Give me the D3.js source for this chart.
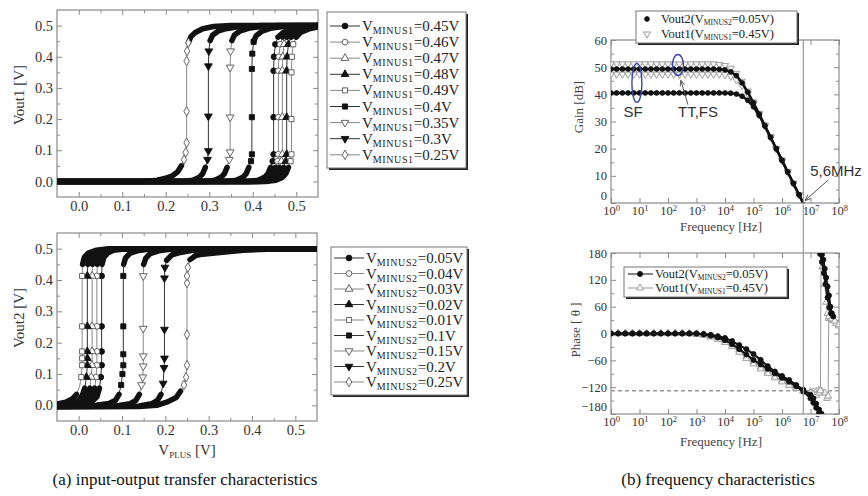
<!DOCTYPE html>
<meta charset="utf-8">
<script src="https://cdn.jsdelivr.net/npm/d3@7"></script>
<style>
body { margin: 0; background: #fff; }
svg { font-family: "Liberation Serif", "Times New Roman", serif; }
</style>
<div id="chart"></div>
<script>
// ---------- data ----------
// (a) transfer curves, pairs of [VPLUS, Vout]
const vminus1 = ["0.45", "0.46", "0.47", "0.48", "0.49", "0.4", "0.35", "0.3", "0.25"];
const vminus2 = ["0.05", "0.04", "0.03", "0.02", "0.01", "0.1", "0.15", "0.2", "0.25"];
const markerKinds = [
  {shape: "circle", filled: true}, {shape: "circle", filled: false},
  {shape: "triUp", filled: false}, {shape: "triUp", filled: true},
  {shape: "square", filled: false}, {shape: "square", filled: true},
  {shape: "triDn", filled: false}, {shape: "triDn", filled: true},
  {shape: "diamond", filled: false}
];

const v1_045 = [[-0.05,0],[0.39,0],[0.412,0.004],[0.427,0.013],[0.435,0.025],[0.441,0.045],[0.446,0.065],[0.448,0.087],[0.448,0.206],[0.448,0.355],[0.449,0.4],[0.452,0.44],[0.458,0.463],[0.47,0.478],[0.49,0.49],[0.52,0.497],[0.55,0.5]];
const v1_046 = [[-0.05,0],[0.40,0],[0.423,0.004],[0.438,0.013],[0.446,0.025],[0.452,0.045],[0.457,0.065],[0.459,0.087],[0.459,0.206],[0.459,0.355],[0.46,0.4],[0.463,0.44],[0.469,0.463],[0.48,0.478],[0.5,0.49],[0.53,0.497],[0.55,0.5]];
const v1_047 = [[-0.05,0],[0.41,0],[0.432,0.004],[0.447,0.013],[0.455,0.025],[0.461,0.045],[0.466,0.065],[0.468,0.087],[0.468,0.206],[0.468,0.355],[0.469,0.4],[0.472,0.44],[0.478,0.463],[0.49,0.478],[0.51,0.49],[0.535,0.497],[0.55,0.5]];
const v1_048 = [[-0.05,0],[0.42,0],[0.442,0.004],[0.457,0.013],[0.465,0.025],[0.471,0.045],[0.476,0.065],[0.478,0.087],[0.478,0.206],[0.478,0.355],[0.479,0.4],[0.482,0.44],[0.488,0.463],[0.5,0.478],[0.52,0.49],[0.54,0.496],[0.55,0.498]];
const v1_049 = [[-0.05,0],[0.43,0],[0.453,0.004],[0.468,0.013],[0.476,0.025],[0.482,0.045],[0.487,0.065],[0.489,0.087],[0.489,0.2],[0.489,0.35],[0.49,0.4],[0.493,0.44],[0.5,0.463],[0.51,0.478],[0.53,0.49],[0.55,0.496]];
const v1_040 = [[-0.05,0],[0.34,0],[0.362,0.004],[0.377,0.013],[0.385,0.025],[0.391,0.045],[0.396,0.065],[0.398,0.087],[0.398,0.206],[0.398,0.361],[0.399,0.41],[0.402,0.448],[0.408,0.468],[0.42,0.481],[0.44,0.491],[0.47,0.497],[0.5,0.5],[0.55,0.5]];
const v1_035 = [[-0.05,0],[0.29,0],[0.312,0.004],[0.327,0.013],[0.335,0.025],[0.341,0.045],[0.346,0.07],[0.348,0.094],[0.348,0.206],[0.348,0.366],[0.349,0.418],[0.352,0.452],[0.358,0.47],[0.37,0.482],[0.39,0.491],[0.42,0.497],[0.46,0.5],[0.55,0.5]];
const v1_030 = [[-0.05,0],[0.24,0],[0.262,0.004],[0.277,0.013],[0.285,0.025],[0.291,0.045],[0.296,0.07],[0.298,0.098],[0.298,0.209],[0.298,0.37],[0.299,0.418],[0.302,0.452],[0.308,0.47],[0.32,0.482],[0.338,0.49],[0.37,0.497],[0.42,0.5],[0.55,0.5]];
const v1_025 = [[-0.05,0],[0.15,0],[0.18,0.004],[0.2,0.01],[0.215,0.018],[0.227,0.03],[0.236,0.05],[0.242,0.07],[0.246,0.093],[0.248,0.124],[0.248,0.225],[0.248,0.386],[0.249,0.418],[0.252,0.445],[0.258,0.465],[0.268,0.478],[0.285,0.49],[0.31,0.497],[0.35,0.5],[0.55,0.5]];
const vout1Curves = [v1_045, v1_046, v1_047, v1_048, v1_049, v1_040, v1_035, v1_030, v1_025];

const v2_005 = [[-0.05,0],[0.01,0.004],[0.03,0.011],[0.042,0.027],[0.048,0.055],[0.051,0.09],[0.053,0.128],[0.053,0.172],[0.053,0.252],[0.053,0.413],[0.054,0.45],[0.058,0.472],[0.067,0.486],[0.08,0.495],[0.11,0.5],[0.55,0.5]];
const v2_004 = [[-0.05,0.001],[0.0,0.005],[0.02,0.012],[0.031,0.028],[0.037,0.055],[0.04,0.09],[0.042,0.128],[0.042,0.172],[0.042,0.252],[0.042,0.413],[0.043,0.45],[0.047,0.472],[0.056,0.486],[0.07,0.495],[0.1,0.5],[0.55,0.5]];
const v2_003 = [[-0.05,0.002],[-0.01,0.006],[0.01,0.014],[0.02,0.03],[0.026,0.055],[0.029,0.09],[0.031,0.128],[0.031,0.172],[0.031,0.252],[0.031,0.413],[0.032,0.45],[0.036,0.472],[0.045,0.486],[0.06,0.495],[0.09,0.5],[0.55,0.5]];
const v2_002 = [[-0.05,0.003],[-0.02,0.008],[0.0,0.016],[0.008,0.03],[0.014,0.055],[0.018,0.09],[0.02,0.128],[0.02,0.15],[0.02,0.172],[0.02,0.252],[0.02,0.413],[0.021,0.45],[0.025,0.472],[0.034,0.486],[0.05,0.495],[0.08,0.5],[0.55,0.5]];
const v2_001 = [[-0.05,0.004],[-0.03,0.01],[-0.015,0.02],[-0.005,0.035],[0.002,0.06],[0.006,0.09],[0.008,0.128],[0.008,0.15],[0.008,0.172],[0.008,0.252],[0.008,0.413],[0.009,0.45],[0.013,0.472],[0.022,0.486],[0.04,0.495],[0.07,0.5],[0.55,0.5]];
const v2_010 = [[-0.05,-0.002],[0.04,0.0],[0.07,0.006],[0.085,0.016],[0.093,0.035],[0.098,0.065],[0.101,0.1],[0.103,0.128],[0.103,0.163],[0.103,0.252],[0.103,0.413],[0.104,0.45],[0.108,0.47],[0.118,0.485],[0.135,0.493],[0.16,0.498],[0.2,0.5],[0.55,0.5]];
const v2_015 = [[-0.05,-0.003],[0.09,-0.001],[0.118,0.005],[0.132,0.016],[0.14,0.035],[0.145,0.065],[0.148,0.09],[0.149,0.125],[0.149,0.157],[0.149,0.245],[0.149,0.413],[0.15,0.45],[0.155,0.47],[0.165,0.484],[0.185,0.493],[0.21,0.498],[0.25,0.5],[0.55,0.5]];
const v2_020 = [[-0.05,-0.004],[0.14,-0.002],[0.168,0.005],[0.182,0.016],[0.19,0.035],[0.195,0.07],[0.197,0.12],[0.198,0.15],[0.198,0.242],[0.198,0.406],[0.199,0.44],[0.203,0.463],[0.215,0.48],[0.235,0.488],[0.26,0.494],[0.3,0.499],[0.55,0.5]];
const v2_025 = [[-0.05,-0.005],[0.14,-0.004],[0.18,0.0],[0.205,0.011],[0.225,0.025],[0.235,0.045],[0.243,0.065],[0.248,0.09],[0.25,0.128],[0.25,0.226],[0.25,0.39],[0.25,0.413],[0.252,0.44],[0.257,0.465],[0.27,0.478],[0.28,0.481],[0.326,0.488],[0.38,0.495],[0.45,0.499],[0.55,0.5]];
const vout2Curves = [v2_005, v2_004, v2_003, v2_002, v2_001, v2_010, v2_015, v2_020, v2_025];

// (b) gain [dB] against log10(frequency)
const gainLogF = [0,0.2,0.4,0.6,0.8,1,1.2,1.4,1.6,1.8,2,2.2,2.4,2.6,2.8,3,3.2,3.4,3.6,3.8,4,4.2,4.4,4.6,4.8,5,5.2,5.4,5.6,5.8,6,6.2,6.4,6.6,6.8];
const gainV2a = [49.3,49.3,49.3,49.3,49.3,49.3,49.3,49.3,49.3,49.3,49.3,49.3,49.3,49.3,49.3,49.3,49.3,49.3,49.3,49.2,49.0,48.3,46.9,44.2,40.8,36.9,32.7,28.5,24.2,20.0,15.7,11.4,7.2,3.0,-1.2];
const gainV2b = [40.5,40.5,40.5,40.5,40.5,40.5,40.5,40.5,40.5,40.5,40.5,40.5,40.5,40.5,40.5,40.5,40.5,40.5,40.5,40.5,40.5,40.4,40.1,39.3,37.8,35.4,32.2,28.3,24.1,19.9,15.7,11.4,7.2,3.0,-1.2];
const gainV1a = [51.2,51.2,51.2,51.2,51.2,51.2,51.2,51.2,51.2,51.2,51.2,51.2,51.2,51.2,51.2,51.2,51.2,51.2,51.2,51.0,50.6,49.6,47.7,44.8,41.2,37.2,33.0,28.7,24.4,20.1,15.8,11.5,7.3,3.1,-1.1];
const gainV1b = [47.4,47.4,47.4,47.4,47.4,47.4,47.4,47.4,47.4,47.4,47.4,47.4,47.4,47.4,47.4,47.4,47.4,47.4,47.4,47.4,47.2,46.6,45.3,43.2,40.2,36.6,32.6,28.4,24.2,19.9,15.6,11.4,7.2,3.0,-1.2];

// (b) phase [deg] against log10(frequency)
const phaseLogF = [0,0.25,0.5,0.75,1,1.25,1.5,1.75,2,2.25,2.5,2.75,3,3.25,3.5,3.75,4,4.25,4.5,4.75,5,5.25,5.5,5.75,6,6.25,6.5,6.75,7];
const phaseV2a = [0,0,0,0,0,0,0,0,0,0,0,0,0,-1,-3,-6,-10,-17,-26,-35,-46,-59,-73,-85,-95,-104,-115,-126,-137];
const phaseV2b = [0,0,0,0,0,0,0,0,0,0,0,0,0,-2,-5,-9,-15,-24,-35,-47,-59,-69,-79,-89,-99,-108,-118,-130,-145];
const phaseV1a = [0,0,0,0,0,0,0,0,0,0,0,0,-1,-3,-6,-10,-16,-24,-37,-51,-63,-75,-86,-96,-105,-113,-120,-127,-130];
const phaseV1b = [0,0,0,0,0,0,0,0,0,0,0,0,-2,-4,-8,-13,-20,-29,-42,-56,-68,-79,-89,-99,-108,-116,-123,-129,-133];
const tailV2a = [[7.1,-145],[7.2,-157],[7.3,-170],[7.38,-179],[7.4,177],[7.45,165],[7.5,145],[7.55,125],[7.6,105],[7.65,85],[7.7,60],[7.75,45],[7.8,38]];
const tailV2b = [[7.1,-155],[7.2,-166],[7.3,-177],[7.34,178],[7.4,160],[7.47,135],[7.53,110],[7.6,80],[7.66,58],[7.72,45]];
const tailV1a = [[7.1,-131],[7.2,-129],[7.3,-127],[7.4,-129],[7.5,-133],[7.58,-145],[7.62,-140],[7.64,34],[7.7,33],[7.8,29],[7.9,23],[8.0,17]];
const tailV1b = [[7.1,-136],[7.2,-138],[7.3,-133],[7.35,-128],[7.37,178],[7.42,150],[7.5,110],[7.56,70],[7.6,45],[7.65,38],[7.75,33],[7.85,28],[8.0,20]];
const phaseMargin = -128;
const unityHz = 5.6e6;

const tfMajor = [0, 0.1, 0.2, 0.3, 0.4, 0.5];
const tfMinor = [0.05, 0.15, 0.25, 0.35, 0.45];
const decades = [1, 1e1, 1e2, 1e3, 1e4, 1e5, 1e6, 1e7, 1e8];
const gainMajor = [0, 10, 20, 30, 40, 50, 60];
const gainMinor = [5, 15, 25, 35, 45, 55];
const phaseMajor = [-180, -120, -60, 0, 60, 120, 180];
const phaseMinor = [-150, -90, -30, 30, 90, 150];

// ---------- drawing ----------
const svg = d3.select("#chart").append("svg").attr("width", 868).attr("height", 496);
const defs = svg.append("defs");
const SANS = '"Liberation Sans", Arial, sans-serif';

const xA1 = d3.scaleLinear().domain([-0.05, 0.55]).range([57, 318]);
const yA1 = d3.scaleLinear().domain([-0.05, 0.55]).range([197, 10]);
const xA2 = d3.scaleLinear().domain([-0.05, 0.55]).range([57, 317]);
const yA2 = d3.scaleLinear().domain([-0.05, 0.55]).range([421, 233]);
const xF = d3.scaleLog().domain([1, 1e8]).range([611, 839]);
const yG = d3.scaleLinear().domain([0, 60]).range([203, 40]);
const yP = d3.scaleLinear().domain([-180, 180]).range([414, 253]);

let clipN = 0;
function clip(x, y) {
  const id = "clip" + (clipN++);
  defs.append("clipPath").attr("id", id).append("rect")
    .attr("x", x.range()[0]).attr("y", y.range()[1])
    .attr("width", x.range()[1] - x.range()[0]).attr("height", y.range()[0] - y.range()[1]);
  return `url(#${id})`;
}

function frame(x, y, o) {
  const g = svg.append("g");
  const [x0, x1] = x.range(), [y0, y1] = y.range();
  const ax = (axis, tr, vals, size, fmt, pad) => {
    const a = g.append("g").attr("transform", tr)
      .call(axis.tickValues(vals).tickSize(size).tickPadding(pad).tickFormat(fmt));
    a.select(".domain").remove();
    a.selectAll("line").attr("stroke", "#8a8a8a");
    a.attr("font-family", null).attr("font-size", o.fs);
    a.selectAll("text").attr("fill", "#333");
    return a;
  };
  ax(d3.axisTop(x), `translate(0,${y1})`, o.xMajor, -5, "", 0);
  ax(d3.axisTop(x), `translate(0,${y1})`, o.xMinor, -3, "", 0);
  ax(d3.axisRight(y), `translate(${x1},0)`, o.yMajor, -5, "", 0);
  ax(d3.axisRight(y), `translate(${x1},0)`, o.yMinor, -3, "", 0);
  ax(d3.axisBottom(x), `translate(0,${y0})`, o.xMinor, -3, "", 0);
  ax(d3.axisLeft(y), `translate(${x0},0)`, o.yMinor, -3, "", 0);
  const bx = ax(d3.axisBottom(x), `translate(0,${y0})`, o.xMajor, -5, o.xFmt, o.xPad);
  const ly = ax(d3.axisLeft(y), `translate(${x0},0)`, o.yMajor, -5, o.yFmt, 4);
  if (o.log) {
    bx.selectAll("text").each(function (d) {
      const t = d3.select(this).text("");
      t.append("tspan").text("10");
      t.append("tspan").attr("dy", "-0.45em").attr("font-size", o.fs * 0.68).text(Math.round(Math.log10(d)));
    });
    // the lowest y label sits just above the corner, as in the figure
    ly.selectAll("text").filter((d, i) => i === 0).attr("dy", "-0.25em");
  }
  g.append("rect").attr("x", x0).attr("y", y1).attr("width", x1 - x0).attr("height", y0 - y1)
    .attr("fill", "none").attr("stroke", "#8a8a8a").attr("stroke-width", 1.2);
}

const symbolFor = {circle: d3.symbolCircle, triUp: d3.symbolTriangle, triDn: d3.symbolTriangle,
  square: d3.symbolSquare, diamond: d3.symbolDiamond};
function markers(g, pts, kind, size, color, openFill) {
  g.selectAll(null).data(pts).join("path")
    .attr("d", d3.symbol(symbolFor[kind.shape], size))
    .attr("transform", d => `translate(${d[0]},${d[1]})` + (kind.shape === "triDn" ? " rotate(180)" : ""))
    .attr("fill", kind.filled ? color : (openFill || "#fff"))
    .attr("stroke", color).attr("stroke-width", 0.9);
}

// text with subscript parts: [text, size, dy, letterSpacing]
function rich(g, x, y, parts, anchor) {
  const t = g.append("text").attr("x", x).attr("y", y).attr("fill", "#222")
    .attr("text-anchor", anchor || "start");
  parts.forEach(p => {
    const s = t.append("tspan").attr("font-size", p[1]).text(p[0]);
    if (p[2]) s.attr("dy", p[2]);
    if (p[3]) s.attr("letter-spacing", p[3]);
  });
  return t;
}

function drawTransfer(x, y, curves) {
  const g = svg.append("g").attr("clip-path", clip(x, y));
  const thin = d3.line().x(d => x(d[0])).y(d => y(d[1]));
  const thick = d3.line().defined(d => d[1] < 0.06 || d[1] > 0.44).x(d => x(d[0])).y(d => y(d[1]));
  curves.forEach((c, i) => {
    g.append("path").attr("d", thin(c)).attr("fill", "none")
      .attr("stroke", markerKinds[i].filled ? "#333" : "#888").attr("stroke-width", 1);
  });
  curves.forEach(c => {
    g.append("path").attr("d", thick(c)).attr("fill", "none").attr("stroke", "#111")
      .attr("stroke-width", 5.5).attr("stroke-linejoin", "round").attr("stroke-linecap", "round");
  });
  curves.forEach((c, i) => {
    const pts = c.filter(d => d[1] > 0.06 && d[1] < 0.45).map(d => [x(d[0]), y(d[1])]);
    markers(g, pts, markerKinds[i], 26, markerKinds[i].filled ? "#111" : "#555");
  });
}

function legendBox(x0, y0, w, h) {
  svg.append("rect").attr("x", x0 + 2).attr("y", y0 + 2).attr("width", w).attr("height", h).attr("fill", "#222");
  svg.append("rect").attr("x", x0).attr("y", y0).attr("width", w).attr("height", h)
    .attr("fill", "#fff").attr("stroke", "#777").attr("stroke-width", 1);
}

function transferLegend(x0, y0, w, h, row0, step, labels, sub) {
  legendBox(x0, y0, w, h);
  const g = svg.append("g");
  labels.forEach((lab, i) => {
    const yy = row0 + i * step, k = markerKinds[i], col = k.filled ? "#111" : "#555";
    g.append("line").attr("x1", x0 + 3).attr("x2", x0 + 33).attr("y1", yy).attr("y2", yy)
      .attr("stroke", k.filled ? "#333" : "#888");
    markers(g, [[x0 + 18, yy]], k, 26, col);
    rich(g, x0 + 35, yy + 5, [["V", 15], [sub, 10, 3, 0.6], ["=" + lab + "V", 15, -3]]);
  });
}

// ----- (a) top: Vout1 -----
frame(xA1, yA1, {xMajor: tfMajor, xMinor: tfMinor, yMajor: tfMajor, yMinor: tfMinor,
  xFmt: d3.format(".1f"), yFmt: d3.format(".1f"), fs: 14.5, xPad: 4});
drawTransfer(xA1, yA1, vout1Curves);
transferLegend(327, 12, 139, 156, 26, 16.1, vminus1, "MINUS1");
svg.append("text").attr("transform", "translate(24,95) rotate(-90)").attr("text-anchor", "middle")
  .attr("font-size", 15).attr("fill", "#333").text("Vout1 [V]");

// ----- (a) bottom: Vout2 -----
frame(xA2, yA2, {xMajor: tfMajor, xMinor: tfMinor, yMajor: tfMajor, yMinor: tfMinor,
  xFmt: d3.format(".1f"), yFmt: d3.format(".1f"), fs: 14.5, xPad: 4});
drawTransfer(xA2, yA2, vout2Curves);
transferLegend(331, 247, 136, 148, 258, 15.5, vminus2, "MINUS2");
svg.append("text").attr("transform", "translate(24,318) rotate(-90)").attr("text-anchor", "middle")
  .attr("font-size", 15).attr("fill", "#333").text("Vout2 [V]");
rich(svg, 187, 455, [["V", 15], ["PLUS", 9, 3], [" [V]", 15, -3]], "middle").attr("fill", "#333");

// ----- (b) gain -----
frame(xF, yG, {xMajor: decades, xMinor: [], yMajor: gainMajor, yMinor: gainMinor,
  xFmt: d => d, yFmt: d3.format("d"), fs: 12.5, xPad: 3, log: true});
const gainSeries = [
  {v: gainV1a, color: "#999", kind: {shape: "triDn", filled: false}, w: 1},
  {v: gainV1b, color: "#999", kind: {shape: "triDn", filled: false}, w: 1},
  {v: gainV2a, color: "#111", kind: {shape: "circle", filled: true}, w: 2.5},
  {v: gainV2b, color: "#111", kind: {shape: "circle", filled: true}, w: 2.5}
];
const gG = svg.append("g").attr("clip-path", clip(xF, yG));
const gainLine = d3.line().x(d => xF(Math.pow(10, d[0]))).y(d => yG(d[1]));
gainSeries.forEach(s => {
  const pts = d3.zip(gainLogF, s.v);
  gG.append("path").attr("d", gainLine(pts)).attr("fill", "none").attr("stroke", s.color).attr("stroke-width", s.w);
  markers(gG, pts.map(d => [xF(Math.pow(10, d[0])), yG(d[1])]), s.kind, s.kind.filled ? 18 : 22, s.color, "#f4f4f4");
});
svg.append("text").attr("transform", "translate(583,107) rotate(-90)").attr("text-anchor", "middle")
  .attr("font-size", 13).attr("fill", "#444").text("Gain [dB]");
svg.append("text").attr("x", 721).attr("y", 231).attr("text-anchor", "middle")
  .attr("font-size", 13).attr("fill", "#444").text("Frequency [Hz]");

// annotations
const blue = "#3b48a8";
svg.append("ellipse").attr("cx", xF(8.1)).attr("cy", yG(44.2)).attr("rx", 5).attr("ry", 19.5)
  .attr("fill", "none").attr("stroke", blue).attr("stroke-width", 1.4);
svg.append("ellipse").attr("cx", xF(224)).attr("cy", yG(50.8)).attr("rx", 5.5).attr("ry", 10.5)
  .attr("fill", "none").attr("stroke", blue).attr("stroke-width", 1.4);
svg.append("text").attr("x", xF(6)).attr("y", yG(31.6)).attr("text-anchor", "middle")
  .attr("font-family", SANS).attr("font-size", 15).attr("fill", "#333").text("SF");
svg.append("text").attr("x", xF(224)).attr("y", yG(31.6))
  .attr("font-family", SANS).attr("font-size", 15).attr("fill", "#333").text("TT,FS");
defs.append("marker").attr("id", "arrow").attr("viewBox", "0 0 10 10").attr("refX", 9).attr("refY", 5)
  .attr("markerWidth", 6).attr("markerHeight", 6).attr("orient", "auto")
  .append("path").attr("d", "M0,1L10,5L0,9").attr("fill", "none").attr("stroke", "#555").attr("stroke-width", 1.5);
svg.append("line").attr("x1", xF(224) + 10).attr("y1", yG(36.2)).attr("x2", xF(224) + 3).attr("y2", yG(45))
  .attr("stroke", "#555").attr("marker-end", "url(#arrow)");
svg.append("line").attr("x1", xF(unityHz) + 25).attr("y1", yG(8.5)).attr("x2", xF(unityHz) + 2).attr("y2", yG(1))
  .attr("stroke", "#555").attr("marker-end", "url(#arrow)");
svg.append("text").attr("x", 836).attr("y", 176).attr("text-anchor", "middle")
  .attr("font-family", SANS).attr("font-size", 15).attr("fill", "#333").text("5,6MHz");

// gain legend
legendBox(636, 11, 161, 32);
const lgG = svg.append("g");
markers(lgG, [[647, 19]], {shape: "circle", filled: true}, 18, "#111");
markers(lgG, [[647, 34]], {shape: "triDn", filled: false}, 22, "#999", "#f4f4f4");
rich(lgG, 661, 23, [["Vout2(V", 12.5], ["MINUS2", 7.5, 1.5], ["=0.05V)", 12.5, -1.5]]);
rich(lgG, 661, 38, [["Vout1(V", 12.5], ["MINUS1", 7.5, 1.5], ["=0.45V)", 12.5, -1.5]]);

// ----- (b) phase -----
frame(xF, yP, {xMajor: decades, xMinor: [], yMajor: phaseMajor, yMinor: phaseMinor,
  xFmt: d => d, yFmt: d3.format("d"), fs: 12.5, xPad: 3, log: true});
const gP = svg.append("g").attr("clip-path", clip(xF, yP));
gP.append("line").attr("x1", xF.range()[0]).attr("x2", xF.range()[1])
  .attr("y1", yP(phaseMargin)).attr("y2", yP(phaseMargin))
  .attr("stroke", "#999").attr("stroke-width", 1.3).attr("stroke-dasharray", "4,3");
const phaseSeries = [
  {v: phaseV1a, tail: tailV1a, color: "#999", kind: {shape: "triUp", filled: false}, w: 1, wrapLine: true},
  {v: phaseV1b, tail: tailV1b, color: "#999", kind: {shape: "triUp", filled: false}, w: 1, wrapLine: true},
  {v: phaseV2b, tail: tailV2b, color: "#111", kind: {shape: "circle", filled: true}, w: 2, wrapLine: false},
  {v: phaseV2a, tail: tailV2a, color: "#111", kind: {shape: "circle", filled: true}, w: 2, wrapLine: false}
];
const phaseLine = d3.line().x(d => xF(Math.pow(10, d[0]))).y(d => yP(d[1]));
phaseSeries.forEach(s => {
  const pts = d3.zip(phaseLogF, s.v).concat(s.tail);
  // split the black traces where the phase wraps from -180 to +180
  const parts = [[pts[0]]];
  for (let i = 1; i < pts.length; i++) {
    if (!s.wrapLine && Math.abs(pts[i][1] - pts[i - 1][1]) > 180) parts.push([]);
    parts[parts.length - 1].push(pts[i]);
  }
  parts.forEach(p => gP.append("path").attr("d", phaseLine(p)).attr("fill", "none")
    .attr("stroke", s.color).attr("stroke-width", s.w));
  markers(gP, pts.map(d => [xF(Math.pow(10, d[0])), yP(d[1])]), s.kind, s.kind.filled ? 20 : 22, s.color, "#f4f4f4");
});
svg.append("text").attr("transform", "translate(580,330) rotate(-90)").attr("text-anchor", "middle")
  .attr("font-size", 13).attr("fill", "#444").text("Phase [ θ ]");
svg.append("text").attr("x", 721).attr("y", 446).attr("text-anchor", "middle")
  .attr("font-size", 13).attr("fill", "#444").text("Frequency [Hz]");

// phase legend
legendBox(624, 267, 163, 30);
const lgP = svg.append("g");
lgP.append("line").attr("x1", 628).attr("x2", 653).attr("y1", 274).attr("y2", 274).attr("stroke", "#111");
lgP.append("line").attr("x1", 628).attr("x2", 653).attr("y1", 288).attr("y2", 288).attr("stroke", "#999");
markers(lgP, [[640, 274]], {shape: "circle", filled: true}, 20, "#111");
markers(lgP, [[640, 288]], {shape: "triUp", filled: false}, 22, "#999", "#f4f4f4");
rich(lgP, 655, 278, [["Vout2(V", 12.5], ["MINUS2", 7.5, 1.5], ["=0.05V)", 12.5, -1.5]]);
rich(lgP, 655, 292, [["Vout1(V", 12.5], ["MINUS1", 7.5, 1.5], ["=0.45V)", 12.5, -1.5]]);

// 5.6 MHz marker line through both plots
svg.append("line").attr("x1", xF(unityHz)).attr("x2", xF(unityHz)).attr("y1", 40).attr("y2", 414)
  .attr("stroke", "#999").attr("stroke-width", 1.2);

// captions
svg.append("text").attr("x", 185).attr("y", 485).attr("text-anchor", "middle")
  .attr("font-size", 17).attr("fill", "#111").text("(a) input-output transfer characteristics");
svg.append("text").attr("x", 718).attr("y", 485).attr("text-anchor", "middle")
  .attr("font-size", 17).attr("fill", "#111").text("(b) frequency characteristics");
</script>
